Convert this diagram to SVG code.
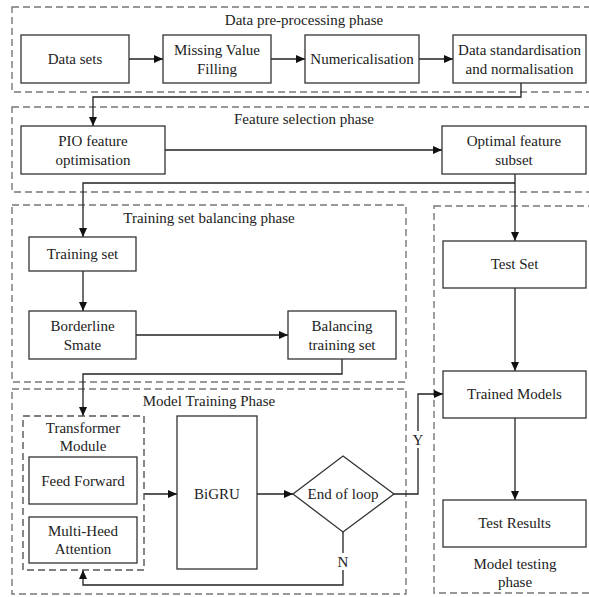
<svg xmlns="http://www.w3.org/2000/svg" width="589" height="597" viewBox="0 0 589 597">
<defs>
<marker id="ah" markerWidth="9" markerHeight="8" refX="9" refY="4" orient="auto" markerUnits="userSpaceOnUse">
<path d="M0,0 L9,4 L0,8 Z" fill="#111"/>
</marker>
<style>
.phase{fill:none;stroke:#777;stroke-width:1.4;stroke-dasharray:7 4}
.box{fill:#fff;stroke:#333;stroke-width:1.3}
.sub{fill:none;stroke:#555;stroke-width:1.4;stroke-dasharray:7 4}
.t{font-family:"Liberation Serif","Times New Roman",serif;font-size:15px;fill:#222;text-anchor:middle}
.c{fill:none;stroke:#222;stroke-width:1.3}
.a{marker-end:url(#ah)}
</style>
</defs>
<rect width="589" height="597" fill="#fff"/>
<g id="phases">
<rect class="phase" x="12" y="7" width="600" height="85"/>
<text class="t" x="304" y="25">Data pre-processing phase</text>
<rect class="phase" x="12" y="107" width="600" height="85"/>
<text class="t" x="304" y="124">Feature selection phase</text>
<rect class="phase" x="12" y="205" width="394" height="177"/>
<text class="t" x="209" y="223">Training set balancing phase</text>
<rect class="phase" x="12" y="389" width="394" height="205"/>
<text class="t" x="209" y="406">Model Training Phase</text>
<rect class="phase" x="434" y="206" width="170" height="387"/>
<text class="t" x="515" y="569">Model testing</text>
<text class="t" x="515" y="587">phase</text>
</g>
<g id="connectors">
<path class="c a" d="M129,59 H163"/>
<path class="c a" d="M271,59 H305"/>
<path class="c a" d="M419,59 H453"/>
<path class="c a" d="M521,83 V97 H93 V126"/>
<path class="c a" d="M165,150 H442"/>
<path class="c a" d="M515,174 V241"/>
<path class="c a" d="M515,183 H83 V237"/>
<path class="c a" d="M83,271 V311"/>
<path class="c a" d="M136,335 H288"/>
<path class="c a" d="M342,359 V374 H83 V416"/>
<path class="c a" d="M144,494 H177"/>
<path class="c a" d="M257,494 H293"/>
<path class="c a" d="M394,494 H418 V394 H443"/>
<path class="c a" d="M343,532 V585 H83 V570"/>
<path class="c a" d="M515,288 V371"/>
<path class="c a" d="M515,418 V500"/>
<rect x="411" y="431" width="14" height="17" fill="#fff"/>
<text class="t" x="418" y="445">Y</text>
<rect x="336" y="553" width="14" height="17" fill="#fff"/>
<text class="t" x="343" y="567">N</text>
</g>
<g id="datasets"><rect class="box" x="21" y="35" width="108" height="48"/><text class="t" x="75" y="64">Data sets</text></g>
<g id="missing"><rect class="box" x="163" y="35" width="108" height="48"/><text class="t" x="217" y="55">Missing Value</text><text class="t" x="217" y="74">Filling</text></g>
<g id="numerical"><rect class="box" x="305" y="35" width="114" height="48"/><text class="t" x="362" y="64">Numericalisation</text></g>
<g id="standard"><rect class="box" x="453" y="35" width="133" height="48"/><text class="t" x="519.5" y="55">Data standardisation</text><text class="t" x="519.5" y="74">and normalisation</text></g>
<g id="pio"><rect class="box" x="21" y="126" width="144" height="48"/><text class="t" x="93" y="146">PIO feature</text><text class="t" x="93" y="165">optimisation</text></g>
<g id="optimal"><rect class="box" x="442" y="126" width="144" height="48"/><text class="t" x="514" y="146">Optimal feature</text><text class="t" x="514" y="165">subset</text></g>
<g id="trainingset"><rect class="box" x="29" y="237" width="107" height="34"/><text class="t" x="82.5" y="259">Training set</text></g>
<g id="borderline"><rect class="box" x="29" y="311" width="107" height="48"/><text class="t" x="82.5" y="331">Borderline</text><text class="t" x="82.5" y="350">Smate</text></g>
<g id="balancing"><rect class="box" x="288" y="311" width="108" height="48"/><text class="t" x="342" y="331">Balancing</text><text class="t" x="342" y="350">training set</text></g>
<g id="transformer"><rect class="sub" x="23" y="416" width="121" height="154"/><text class="t" x="83" y="433">Transformer</text><text class="t" x="83" y="451">Module</text></g>
<g id="feedforward"><rect class="box" x="29" y="457" width="108" height="47"/><text class="t" x="83" y="486">Feed Forward</text></g>
<g id="multihead"><rect class="box" x="29" y="517" width="108" height="46"/><text class="t" x="83" y="536">Multi-Heed</text><text class="t" x="83" y="554">Attention</text></g>
<g id="bigru"><rect class="box" x="177" y="416" width="80" height="153"/><text class="t" x="217" y="499">BiGRU</text></g>
<g id="endloop"><polygon class="box" points="343,456 394,494 343,532 293,494"/><text class="t" x="343" y="499">End of loop</text></g>
<g id="testset"><rect class="box" x="443" y="241" width="143" height="47"/><text class="t" x="514.5" y="269">Test Set</text></g>
<g id="trained"><rect class="box" x="443" y="371" width="143" height="47"/><text class="t" x="514.5" y="399">Trained Models</text></g>
<g id="results"><rect class="box" x="443" y="500" width="143" height="47"/><text class="t" x="514.5" y="528">Test Results</text></g>
</svg>
